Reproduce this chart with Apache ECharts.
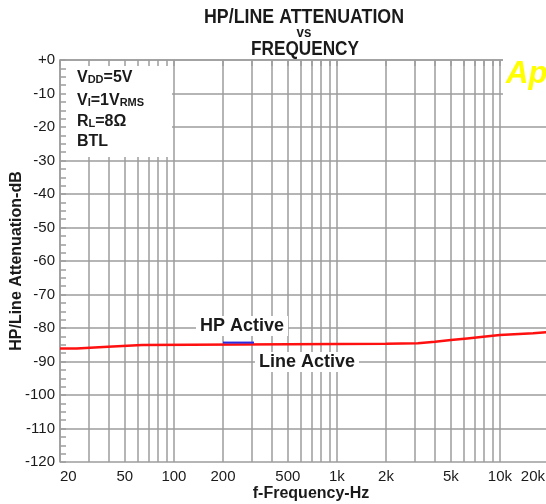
<!DOCTYPE html>
<html>
<head>
<meta charset="utf-8">
<script src="https://cdn.jsdelivr.net/npm/echarts@6/dist/echarts.min.js"></script>
<style>html,body{margin:0;padding:0;background:#fff}#c{width:546px;height:504px}</style>
</head>
<body>
<div id="c"></div>
<script>
// ---- data ----
const lineFreq = [20, 25.3, 39.4, 63.7, 2000, 3140, 4000, 5000, 6300, 7900, 10000, 16000, 20000];
const lineActive = [-86.1, -85.6, -85.1, -84.7, -84.55, -84.1, -83.6, -83.1, -82.6, -82.1, -81.6, -81.2, -81.2];
const hpFreq = [200, 310];
const hpActive = [-84.35, -84.35];
const gridFreqs = [20,30,40,50,60,70,80,90,100,200,300,400,500,600,700,800,900,1000,2000,3000,4000,5000,6000,7000,8000,9000,10000,20000];
const xLabelFreqs = [20,50,100,200,500,1000,2000,5000,10000,20000];
const xTickLabels = ['20','50','100','200','500','1k','2k','5k','10k','20k'];
const yTickValues = [0,-10,-20,-30,-40,-50,-60,-70,-80,-90,-100,-110,-120];
const yTickLabels = ['+0','-10','-20','-30','-40','-50','-60','-70','-80','-90','-100','-110','-120'];

const FONT = "'Liberation Sans', Arial, sans-serif";
const GRID = '#9d9d9d';

function xFmt(v) {
  const i = xLabelFreqs.findIndex(f => Math.abs(f - v) < f * 1e-4);
  if (i < 0) return '';
  return i === xLabelFreqs.length - 1 ? '{e|' + xTickLabels[i] + '}' : xTickLabels[i];
}
function yFmt(v) {
  const i = yTickValues.findIndex(t => Math.abs(t - v) < 1e-6);
  return i >= 0 ? yTickLabels[i] : '';
}
const subRich = {
  b: { fontFamily: FONT, fontSize: 16, fontWeight: 'bold', fill: '#1a1a1a', verticalAlign: 'bottom' },
  s: { fontFamily: FONT, fontSize: 11, fontWeight: 'bold', fill: '#1a1a1a', verticalAlign: 'bottom', padding: [0,0,1,0] }
};

const chart = echarts.init(document.getElementById('c'));
chart.setOption({
  animation: false,
  backgroundColor: '#fff',
  grid: { left: 60, top: 60, right: -3, bottom: 42, outerBoundsMode: 'none', containLabel: false },
  xAxis: [{
    type: 'log', logBase: 10, min: 20, max: 20000, position: 'bottom', z: 0,
    axisLine: { show: true, lineStyle: { color: GRID, width: 1.5 } },
    axisTick: { show: false, customValues: gridFreqs },
    splitLine: { show: true, lineStyle: { color: GRID, width: 1.5 } },
    axisLabel: {
      customValues: xLabelFreqs, formatter: xFmt, margin: 7,
      fontFamily: FONT, fontSize: 15, color: '#1a1a1a',
      alignMinLabel: 'left', alignMaxLabel: 'right',
      rich: { e: { fontFamily: FONT, fontSize: 15, color: '#1a1a1a', padding: [0, 4, 0, 0] } }
    },
    name: 'f-Frequency-Hz', nameLocation: 'middle', nameGap: 24, nameMoveOverlap: false,
    nameTextStyle: { fontFamily: FONT, fontSize: 16, fontWeight: 'bold', color: '#1a1a1a', padding: [0, 0, 0, 13] }
  }, {
    type: 'log', logBase: 10, min: 20, max: 20000, position: 'top', z: 10,
    axisLine: { show: false },
    axisTick: { show: true, inside: true, length: 6, customValues: gridFreqs, lineStyle: { color: GRID, width: 1.5 } },
    splitLine: { show: false },
    axisLabel: { show: false }
  }],
  yAxis: [{
    type: 'value', min: -120, max: 0, interval: 10, position: 'left', z: 0,
    axisLine: { show: true, lineStyle: { color: GRID, width: 1.5 } },
    axisTick: { show: false },
    splitLine: { show: true, lineStyle: { color: GRID, width: 1.5 } },
    axisLabel: { formatter: yFmt, margin: 5, fontFamily: FONT, fontSize: 15, color: '#1a1a1a' },
    name: 'HP/Line Attenuation-dB', nameLocation: 'middle', nameGap: 35, nameMoveOverlap: false,
    nameTextStyle: { fontFamily: FONT, fontSize: 16, fontWeight: 'bold', color: '#1a1a1a' }
  }, {
    type: 'value', min: -120, max: 0, interval: 10, position: 'left', z: 10,
    axisLine: { show: false },
    axisTick: { show: true, inside: true, length: 6, lineStyle: { color: GRID, width: 1.5 } },
    minorTick: { show: true, splitNumber: 4, length: 6, lineStyle: { color: GRID, width: 1.5 } },
    splitLine: { show: false },
    axisLabel: { show: false }
  }],
  series: [{
    type: 'line', xAxisIndex: 0, yAxisIndex: 0, step: 'end', symbol: 'none', z: 3,
    lineStyle: { color: '#ff1010', width: 2.5 },
    data: lineFreq.map((f, i) => [f, lineActive[i]])
  }, {
    type: 'line', xAxisIndex: 0, yAxisIndex: 0, symbol: 'none', z: 4,
    lineStyle: { color: '#2a2ae0', width: 2 },
    data: hpFreq.map((f, i) => [f, hpActive[i]])
  }],
  graphic: {
    elements: [
      { type: 'rect', z: 5, shape: { x: 61, y: 61, width: 111, height: 96 }, style: { fill: '#fff' } },
      { type: 'text', z: 20, x: 77, y: 78, style: { text: '{b|V}{s|DD}{b|=5V}', verticalAlign: 'middle', rich: subRich } },
      { type: 'text', z: 20, x: 77, y: 101, style: { text: '{b|V}{s|I}{b|=1V}{s|RMS}', verticalAlign: 'middle', rich: subRich } },
      { type: 'text', z: 20, x: 77, y: 122, style: { text: '{b|R}{s|L}{b|=8Ω}', verticalAlign: 'middle', rich: subRich } },
      { type: 'text', z: 20, x: 77, y: 142, style: { text: 'BTL', verticalAlign: 'middle', font: "bold 16px " + FONT, fill: '#1a1a1a' } },
      { type: 'text', z: 20, x: 304, y: 17, scaleX: 0.89, style: {
          text: 'HP/LINE ATTENUATION', align: 'center', verticalAlign: 'middle', font: "bold 20px " + FONT, fill: '#1a1a1a' } },
      { type: 'text', z: 20, x: 304, y: 33, scaleX: 0.95, style: {
          text: 'vs', align: 'center', verticalAlign: 'middle', font: "bold 14px " + FONT, fill: '#1a1a1a' } },
      { type: 'text', z: 20, x: 305, y: 49, scaleX: 0.86, style: {
          text: 'FREQUENCY', align: 'center', verticalAlign: 'middle', font: "bold 20px " + FONT, fill: '#1a1a1a' } },
      { type: 'text', z: 20, x: 242, y: 326, style: {
          text: 'HP Active', align: 'center', verticalAlign: 'middle', font: "bold 18px " + FONT, fill: '#1a1a1a',
          backgroundColor: '#fff', padding: [1, 4, 1, 4] } },
      { type: 'text', z: 20, x: 307, y: 362, style: {
          text: 'Line Active', align: 'center', verticalAlign: 'middle', font: "bold 18px " + FONT, fill: '#1a1a1a',
          backgroundColor: '#fff', padding: [1, 4, 1, 4] } },
      { type: 'text', z: 20, x: 503, y: 57, style: {
          text: 'Ap', align: 'left', verticalAlign: 'top', font: "italic bold 31px " + FONT, fill: '#ffff00',
          backgroundColor: '#fff', padding: [2, 6, 6, 3] } }
    ]
  }
});
</script>
</body>
</html>
